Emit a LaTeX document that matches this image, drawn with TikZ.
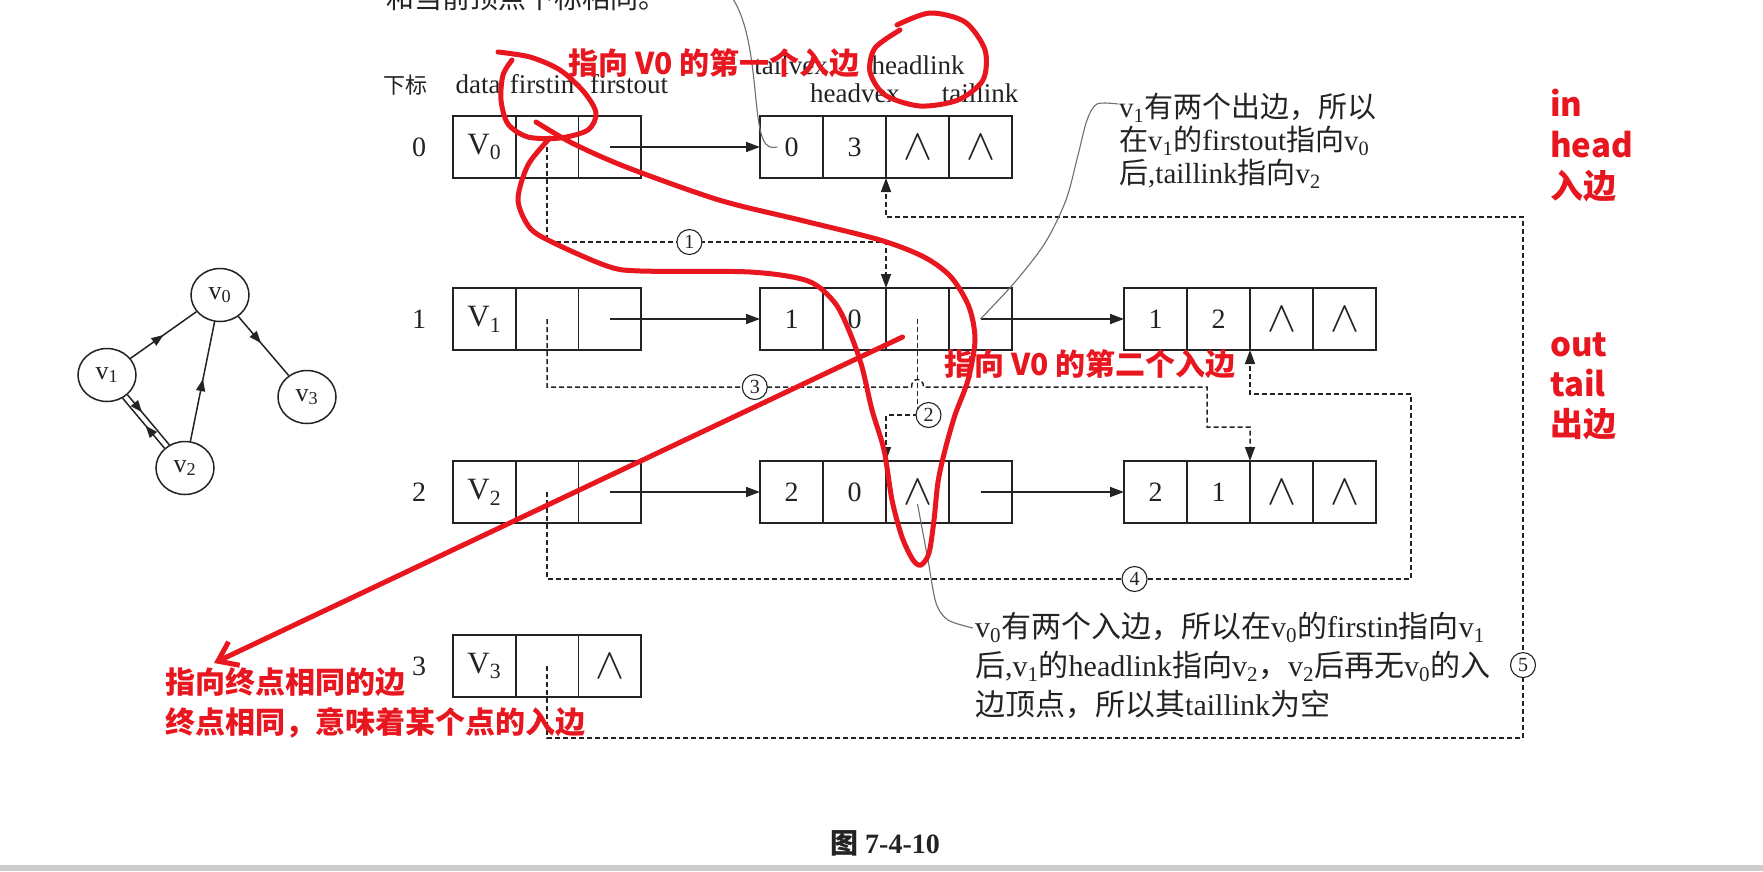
\documentclass[tikz,border=0pt]{standalone}
\usepackage{fontspec}
\setmainfont{Liberation Serif}
\newfontfamily\cjk{Noto Sans CJK SC}
\usetikzlibrary{positioning,calc,arrows.meta,shapes.geometric,decorations.markings}

\definecolor{ink}{RGB}{35,35,35}
\definecolor{redink}{RGB}{232,22,30}
\definecolor{leadgray}{RGB}{110,110,110}
\definecolor{bargray}{RGB}{204,204,204}

\newcommand{\zh}[1]{{\cjk #1}}
\newcommand{\nullmark}{\scalebox{1.75}{$\wedge$}}
\newcommand{\vexrow}[4]{%
	\node[cell,anchor=west,font=\fontsize{31}{32}\selectfont] (#1d) at (453,#2) {#3};
	\node[cell,right=0pt of #1d] (#1in) {};
	\node[cell,right=0pt of #1in] (#1out) {#4};}
\newcommand{\edgerow}[7]{%
	\node[cell,ecell,anchor=west] (#1tv) at (#2,#3) {#4};
	\node[cell,ecell,right=0pt of #1tv] (#1hv) {#5};
	\node[cell,ecell,right=0pt of #1hv] (#1hl) {#6};
	\node[cell,ecell,right=0pt of #1hl] (#1tl) {#7};}

\tikzset{
	cell/.style={draw=ink,line width=1.6pt,minimum width=62.7pt,minimum height=62pt,inner sep=0pt,outer sep=0pt,text=ink,font=\fontsize{28}{30}\selectfont},
	ecell/.style={minimum width=63pt},
	idx/.style={text=ink,font=\fontsize{28}{30}\selectfont},
	hdr/.style={text=ink,anchor=base,inner sep=0pt,font=\fontsize{27}{30}\selectfont},
	nextptr/.style={draw=ink,line width=1.6pt,-{Triangle[length=14pt,width=10pt]}},
	inptr/.style={draw=ink,line width=1.5pt,dash pattern=on 5pt off 3pt,-{Triangle[length=14pt,width=10pt]}},
	num/.style={circle,draw=ink,solid,line width=1.1pt,fill=white,inner sep=0pt,minimum size=25pt,text=ink,font=\fontsize{20}{20}\selectfont},
	note/.style={text=ink,align=left,inner sep=0pt,font=\fontsize{30}{39}\selectfont},
	leader/.style={draw=leadgray,line width=1.1pt},
	vtx/.style={ellipse,draw=ink,line width=1.5pt,minimum width=58pt,minimum height=53pt,inner sep=0pt,text=ink,font=\fontsize{26}{28}\selectfont},
	gedge/.style={draw=ink,line width=1.5pt},
	midarrow/.style={postaction={decorate},decoration={markings,mark=at position #1 with {\arrow{Triangle[length=12pt,width=9pt]}}}},
	redpen/.style={draw=redink,line width=5pt,line cap=round,line join=round},
	redtext/.style={text=redink,align=left,inner sep=0pt,font=\cjk\bfseries\fontsize{30}{40}\selectfont}
}

\begin{document}
\begin{tikzpicture}[x=1pt,y=-1pt]
	\useasboundingbox (0,0) rectangle (1763,871);
	\fill[white] (0,0) rectangle (1763,871);
	\fill[bargray] (0,865) rectangle (1763,871);

	% graph
	\node[vtx] (g0) at (220,295) {v\textsubscript{0}};
	\node[vtx] (g1) at (107,375) {v\textsubscript{1}};
	\node[vtx] (g2) at (185,468) {v\textsubscript{2}};
	\node[vtx] (g3) at (307,397) {v\textsubscript{3}};
	\draw[gedge,midarrow=.5] (g1) -- (g0);
	\draw[gedge,midarrow=.45] (g0) -- (g3);
	\draw[gedge,midarrow=.52] (g2) -- (g0);
	\draw[gedge,midarrow=.35] (g1.-44) -- (g2.124);
	\draw[gedge,midarrow=.45] (g2.136) -- (g1.-56);

	% headers
	\node[hdr,font=\cjk\fontsize{22}{22}\selectfont] (hidx) at (405,93) {下标};
	\node[hdr] (hdata) at (478,93) {data};
	\node[hdr] (hin) at (542,93) {firstin};
	\node[hdr] (hout) at (629,93) {firstout};
	\node[hdr] (htv) at (791,74) {tailvex};
	\node[hdr] (hhl) at (918,74) {headlink};
	\node[hdr] (hhv) at (855,102) {headvex};
	\node[hdr] (htl) at (980,102) {taillink};

	% vertex table and arc nodes
	\foreach \i/\y in {0/147,1/319,2/492,3/666}
		\node[idx] (i\i) at (419,\y) {\i};
	\vexrow{v0}{147}{V\textsubscript{0}}{}
	\vexrow{v1}{319}{V\textsubscript{1}}{}
	\vexrow{v2}{492}{V\textsubscript{2}}{}
	\vexrow{v3}{666}{V\textsubscript{3}}{\nullmark}
	\edgerow{a0}{760}{147}{0}{3}{\nullmark}{\nullmark}
	\edgerow{a1}{760}{319}{1}{0}{}{}
	\edgerow{b1}{1124}{319}{1}{2}{\nullmark}{\nullmark}
	\edgerow{a2}{760}{492}{2}{0}{\nullmark}{}
	\edgerow{b2}{1124}{492}{2}{1}{\nullmark}{\nullmark}

	\draw[nextptr] (v0out.center) -- (a0tv.west);
	\draw[nextptr] (v1out.center) -- (a1tv.west);
	\draw[nextptr] (a1tl.center) -- (b1tv.west);
	\draw[nextptr] (v2out.center) -- (a2tv.west);
	\draw[nextptr] (a2tl.center) -- (b2tv.west);

	% in-lists
	\coordinate (r1) at (0,242);
	\coordinate (r2) at (0,415);
	\coordinate (r3) at (0,387);
	\coordinate (r4) at (0,579);
	\coordinate (r5) at (0,738);
	\coordinate (j3) at (1207,427);
	\coordinate (k4) at (1411,394);
	\coordinate (k5) at (1523,217);
	\draw[inptr] (v0in.center) -- (v0in.center |- r1) -| node[num,pos=.21]{1} (a1hl.north west);
	\draw[inptr] (a1hl.center) -- (a1hl.center |- r2) node[num,xshift=11pt]{2} -| (a2hl.north west);
	\draw[inptr] (v1in.center) -- (v1in.center |- r3) -- node[num,pos=.57]{3} ($(a1hl.center |- r3)+(-6,0)$)
		.. controls +(0,-10) and +(0,-10) .. ($(a1hl.center |- r3)+(6,0)$) -- (j3 |- r3) -- (j3) -| (b2hl.north west);
	\draw[inptr] (v2in.center) |- node[num,pos=.84]{4} (k4 |- r4) -- (k4) -| (b1hl.south west);
	\draw[inptr] (v3in.center) |- (k5 |- r5) -- node[num,pos=.14]{5} (k5) -| (a0hl.south west);

	% notes
	\coordinate (tn) at (731,-4);
	\node[note,font=\cjk\fontsize{28}{34}\selectfont,anchor=base west] (topnote) at (386,8) {和当前顶点下标相同。};
	\draw[leader] (tn) .. controls (748,20) and (752,60) .. (756,100) .. controls (760,140) and (764,150) .. ([xshift=-14pt]a0tv.center);
	\node[note,font=\fontsize{29}{33}\selectfont,anchor=north west] (n1) at (1119,93) {v\textsubscript{1}\zh{有两个出边，所以}\\
		\zh{在}v\textsubscript{1}\zh{的}firstout\zh{指向}v\textsubscript{0}\\
		\zh{后},taillink\zh{指向}v\textsubscript{2}};
	\draw[leader] plot[smooth] coordinates {([shift={(-1,11)}]n1.north west) (1097,104) (1087,120) (1078,155) (1066,200) (1045,243) (1015,282) (a1tl.center)};
	\node[note,anchor=north west] (n2) at (975,612) {v\textsubscript{0}\zh{有两个入边，所以在}v\textsubscript{0}\zh{的}firstin\zh{指向}v\textsubscript{1}\\
		\zh{后},v\textsubscript{1}\zh{的}headlink\zh{指向}v\textsubscript{2}\zh{，}v\textsubscript{2}\zh{后再无}v\textsubscript{0}\zh{的入}\\
		\zh{边顶点，所以其}taillink\zh{为空}};
	\draw[leader] plot[smooth] coordinates {([yshift=-12pt]a2hl.center) (928,560) (936,603) (948,620) ([shift={(-2,16)}]n2.north west)};
	\node[hdr,font=\bfseries\fontsize{28}{30}\selectfont,anchor=center] (cap) at (885,843) {\zh{图} 7-4-10};

	% red marks
	\draw[redpen] plot[smooth] coordinates {(498,52) (530,57) (560,70) (584,92) (596,113) (588,130) (560,138) (528,137) (508,124) (501,100) (503,75) (512,60)};
	\draw[redpen] plot[smooth] coordinates {(550,138) (528,165) (518,200) (530,228) (554,243) (607,266) (640,271) (750,272) (808,281) (835,303) (850,333) (862,367) (872,410) (884,450) (892,500) (902,537) (913,560) (921,565) (929,553) (934,520) (938,482) (945,450) (955,415) (968,380) (975,340) (969,307) (951,277) (924,257) (880,240) (800,220) (719,200) (626,167) (572,143) (536,122)};
	\draw[redpen] plot[smooth] coordinates {(897,25) (930,13) (965,22) (985,50) (983,80) (958,100) (920,106) (885,95) (870,72) (875,48) (900,30)};
	\coordinate (rtip) at (214,663);
	\draw[redpen,-{Straight Barb[length=18pt,width=26pt]}] ([shift={(-15,18)}]a1hl.center) -- (rtip);
	\node[redtext] (rfirst) at (714,63) {指向 V0 的第一个入边};
	\node[redtext] (rsecond) at (1090,364) {指向 V0 的第二个入边};
	\node[redtext,font=\cjk\bfseries\fontsize{33}{41}\selectfont,anchor=west] (rin) at (1550,146) {in\\head\\入边};
	\node[redtext,font=\cjk\bfseries\fontsize{33}{40}\selectfont,anchor=west] (rout) at (1550,386) {out\\tail\\出边};
	\node[redtext,anchor=west] (rnote) at (165,703) {指向终点相同的边\\终点相同，意味着某个点的入边};
\end{tikzpicture}
\end{document}
